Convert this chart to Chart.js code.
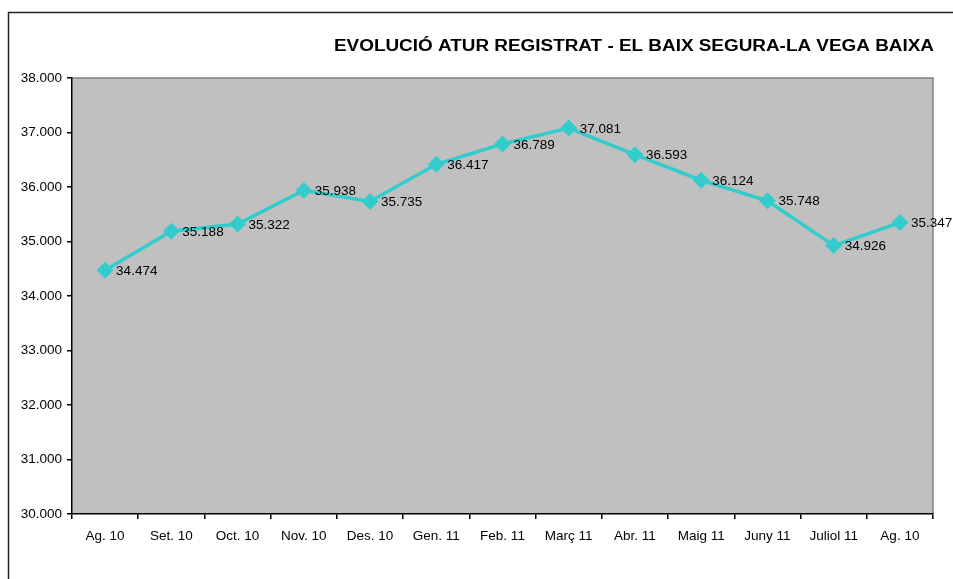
<!DOCTYPE html>
<html>
<head>
<meta charset="utf-8">
<script src="https://cdn.jsdelivr.net/npm/chart.js"></script>
<style>
  html, body { margin: 0; padding: 0; background: #fff; }
  #wrap { width: 953px; height: 579px; }
</style>
</head>
<body>
<div id="wrap"><canvas id="myChart"></canvas></div>
<script>
const titol = 'EVOLUCIÓ ATUR REGISTRAT - EL BAIX SEGURA-LA VEGA BAIXA';
const mesos = ['Ag. 10', 'Set. 10', 'Oct. 10', 'Nov. 10', 'Des. 10', 'Gen. 11', 'Feb. 11',
  'Març 11', 'Abr. 11', 'Maig 11', 'Juny 11', 'Juliol 11', 'Ag. 10'];
const aturats = [34474, 35188, 35322, 35938, 35735, 36417, 36789, 37081, 36593, 36124, 35748, 34926, 35347];
const eixMin = 30000;
const eixMax = 38000;
const pas = 1000;

const FONT = 'Liberation Sans, Arial, sans-serif';

// 35938 -> "35.938"
function miles(v) {
  return String(Math.round(v)).replace(/\B(?=(\d{3})+(?!\d))/g, '.');
}

const marc = {
  id: 'marc',
  beforeDraw(chart) {
    const { ctx, chartArea: a } = chart;
    ctx.save();
    ctx.fillStyle = '#fff';
    ctx.fillRect(0, 0, chart.width, chart.height);
    // vora exterior del gràfic
    ctx.strokeStyle = '#222';
    ctx.lineWidth = 1.5;
    ctx.strokeRect(8.5, 12.5, chart.width + 20, chart.height + 20);
    // fons de l'àrea de traçat
    ctx.fillStyle = '#C0C0C0';
    ctx.fillRect(a.left, a.top, a.right - a.left, a.bottom - a.top);
    ctx.strokeStyle = '#808080';
    ctx.lineWidth = 1.5;
    ctx.beginPath();
    ctx.moveTo(a.left, a.top);
    ctx.lineTo(a.right, a.top);
    ctx.lineTo(a.right, a.bottom);
    ctx.stroke();
    // títol, una mica eixamplat com el d'Excel
    ctx.fillStyle = '#000';
    ctx.font = 'bold 16px ' + FONT;
    ctx.textAlign = 'right';
    ctx.textBaseline = 'middle';
    const w = ctx.measureText(titol).width;
    const sx = 600 / w;
    ctx.translate(934, 47);
    ctx.scale(sx, 1);
    ctx.fillText(titol, 0, 0);
    ctx.restore();
  },
  afterDatasetsDraw(chart) {
    const { ctx } = chart;
    const meta = chart.getDatasetMeta(0);
    ctx.save();
    ctx.fillStyle = '#000';
    ctx.font = '13.5px ' + FONT;
    ctx.textAlign = 'left';
    ctx.textBaseline = 'middle';
    meta.data.forEach((pt, i) => {
      ctx.fillText(miles(aturats[i]), pt.x + 11, pt.y + 1);
    });
    ctx.restore();
  }
};

new Chart(document.getElementById('myChart'), {
  type: 'line',
  data: {
    labels: mesos,
    datasets: [{
      data: aturats,
      borderColor: '#33CCCC',
      backgroundColor: '#33CCCC',
      borderWidth: 3.5,
      pointStyle: 'rectRot',
      pointRadius: 6,
      pointHoverRadius: 6,
      tension: 0
    }]
  },
  options: {
    responsive: true,
    maintainAspectRatio: false,
    animation: false,
    layout: { padding: { top: 78, right: 20, bottom: 0, left: 0 } },
    plugins: {
      legend: { display: false },
      tooltip: { enabled: false }
    },
    scales: {
      x: {
        offset: true,
        afterFit(s) { s.height = 65; },
        border: { color: '#000', width: 1.5 },
        grid: { offset: true, drawOnChartArea: false, color: '#000', tickLength: 5, lineWidth: 1.5 },
        ticks: { color: '#000', padding: 9, font: { family: FONT, size: 13.5 }, maxRotation: 0, autoSkip: false }
      },
      y: {
        min: eixMin,
        max: eixMax,
        afterFit(s) { s.width = 72; },
        border: { color: '#000', width: 1.5 },
        grid: { drawOnChartArea: false, color: '#000', tickLength: 5, lineWidth: 1.5 },
        ticks: { stepSize: pas, color: '#000', padding: 5, font: { family: FONT, size: 13.5 }, callback: v => miles(v) }
      }
    }
  },
  plugins: [marc]
});
</script>
</body>
</html>
